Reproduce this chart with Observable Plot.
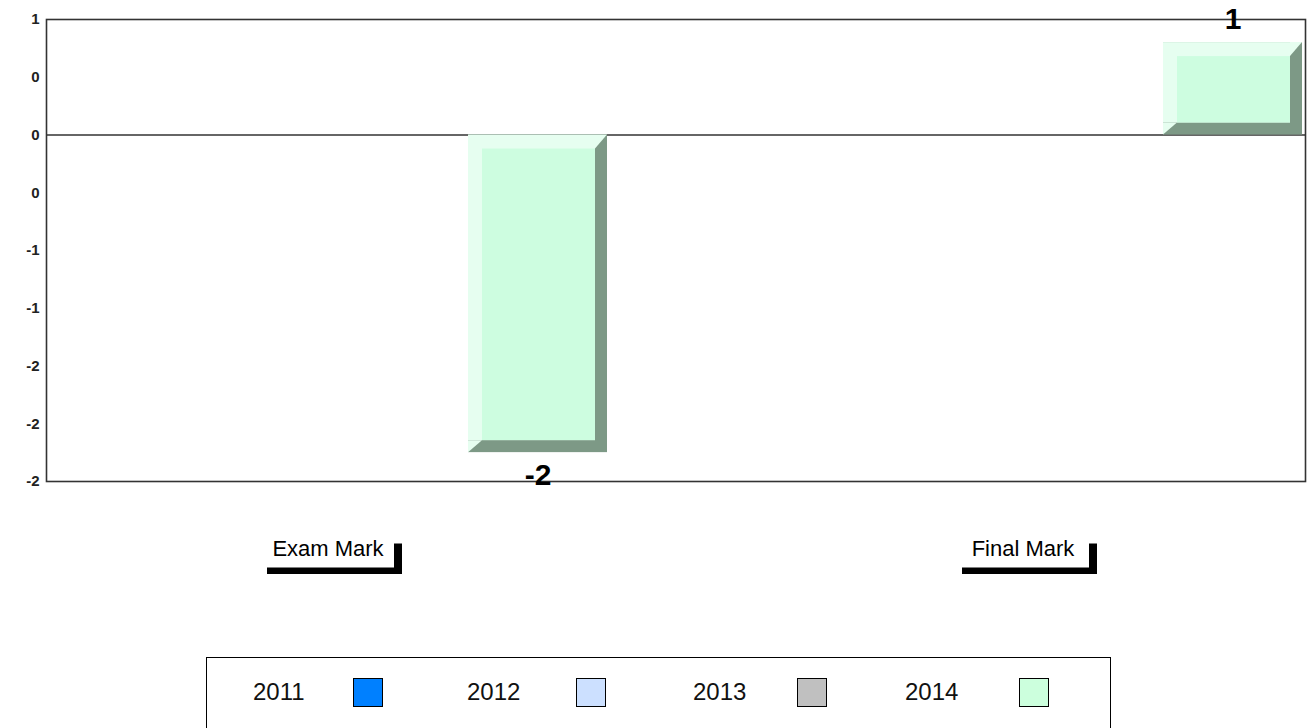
<!DOCTYPE html>
<html>
<head>
<meta charset="utf-8">
<script src="https://cdn.jsdelivr.net/npm/d3@7"></script>
<script src="https://cdn.jsdelivr.net/npm/@observablehq/plot@0.6"></script>
<style>
  body { margin: 0; background: #fff; font-family: Arial, "Liberation Sans", sans-serif; }
  #chart { position: absolute; left: 0; top: 0; }
  #legend { position: absolute; left: 206px; top: 657px; width: 905px; height: 100px; border: 1px solid #000; box-sizing: border-box; }
  .lg-label { position: absolute; font-size: 24px; line-height: 24px; color: #111; top: 22px; }
  .lg-swatch { position: absolute; width: 30px; height: 29px; border: 1.5px solid #000; box-sizing: border-box; top: 20px; }
</style>
</head>
<body>
<div id="chart"></div>
<div id="legend"></div>
<script>
// ---- data ----
const categories = ["Exam Mark", "Final Mark"];
const series = ["2011", "2012", "2013", "2014"];
const seriesColors = ["#0080ff", "#cce0ff", "#c0c0c0", "#ccffdd"];
const values2011 = [null, null];
const values2012 = [null, null];
const values2013 = [null, null];
const values2014 = [-2.2, 0.64];
const yTicks = [-2.4, -2.0, -1.6, -1.2, -0.8, -0.4, 0, 0.4, 0.8];
const yTickLabels = ["-2", "-2", "-2", "-1", "-1", "0", "0", "0", "1"];

// ---- style ----
const lightColor = "#e6fef0";
const faceColor = "#cdfde0";
const shadowColor = "#7d9986";

const seriesValues = [values2011, values2012, values2013, values2014];
const rows = [];
const xDomain = [];
categories.forEach((c, ci) => {
  if (ci > 0) xDomain.push("gap" + ci);
  series.forEach((s, si) => {
    const key = c + "|" + s;
    xDomain.push(key);
    rows.push({key, category: c, series: s, value: seriesValues[si][ci]});
  });
});
const bars = rows.filter(d => d.value != null);

const W = 1311, H = 640;

function decor(index, scales) {
  const x = scales.x, y = scales.y, bw = x.bandwidth();
  const g = d3.create("svg:g");
  for (const d of bars) {
    const x0 = x(d.key), x1 = x0 + bw;
    const ya = y(0), yb = y(d.value);
    const top = Math.min(ya, yb), bottom = Math.max(ya, yb);
    g.append("path").attr("fill", lightColor)
      .attr("d", `M${x1 - 12},${top}L${x1},${top}L${x1 - 12},${top + 14}Z`);
    g.append("path").attr("fill", lightColor)
      .attr("d", `M${x0},${bottom - 12}L${x0 + 14},${bottom - 12}L${x0},${bottom}Z`);
  }
  categories.forEach(c => {
    const first = x(c + "|" + series[0]);
    const last = x(c + "|" + series[series.length - 1]) + bw;
    const cx = (first + last) / 2;
    g.append("text").attr("x", cx - 1).attr("y", 555.5)
      .attr("text-anchor", "middle").attr("font-size", 22)
      .attr("font-family", "Arial, 'Liberation Sans', sans-serif")
      .attr("fill", "#000").text(c);
    g.append("rect").attr("x", cx - 62).attr("y", 567.5).attr("width", 135).attr("height", 6.5).attr("fill", "#000");
    g.append("rect").attr("x", cx + 65).attr("y", 543.5).attr("width", 8).attr("height", 30.5).attr("fill", "#000");
  });
  return g.node();
}

const chart = Plot.plot({
  width: W,
  height: H,
  marginLeft: 46,
  marginRight: 6,
  marginTop: 19,
  marginBottom: H - 481,
  style: { fontFamily: "Arial, 'Liberation Sans', sans-serif", background: "#fff", color: "#000" },
  x: { type: "band", domain: xDomain, padding: 0, insetLeft: 5, insetRight: 3, axis: null },
  y: { domain: [-2.4, 0.8], axis: null },
  marks: [
    Plot.ruleY([0], { stroke: "#333", strokeWidth: 1.5 }),
    Plot.barY(bars, { x: "key", y: "value", fill: shadowColor }),
    Plot.barY(bars, { x: "key", y: "value", fill: lightColor, insetRight: 12, insetBottom: 12 }),
    Plot.barY(bars, { x: "key", y: "value", fill: faceColor, insetLeft: 14, insetTop: 14, insetRight: 12, insetBottom: 12 }),
    decor,
    Plot.frame({ stroke: "#333", strokeWidth: 1.6 }),
    Plot.axisY(yTicks, {
      label: null,
      tickSize: 0,
      tickPadding: 7,
      fontSize: 15,
      fontWeight: "bold",
      fill: "#222",
      tickFormat: d => yTickLabels[yTicks.findIndex(t => Math.abs(t - d) < 1e-9)]
    }),
    Plot.text(bars.filter(d => d.value < 0), {
      x: "key", y: "value", text: d => String(Math.round(d.value)),
      dy: 23, fontSize: 30, fontWeight: "bold", fill: "#000"
    }),
    Plot.text(bars.filter(d => d.value >= 0), {
      x: "key", y: "value", text: d => String(Math.round(d.value)),
      dy: -23, fontSize: 30, fontWeight: "bold", fill: "#000"
    })
  ]
});
document.getElementById("chart").appendChild(chart);

// ---- legend ----
const legend = document.getElementById("legend");
const labelLeft = [46, 260, 486, 698];
const swatchLeft = [146, 369, 590, 812];
series.forEach((s, i) => {
  const t = document.createElement("div");
  t.className = "lg-label";
  t.style.left = labelLeft[i] + "px";
  t.textContent = s;
  legend.appendChild(t);
  const sw = document.createElement("div");
  sw.className = "lg-swatch";
  sw.style.left = swatchLeft[i] + "px";
  sw.style.background = seriesColors[i];
  legend.appendChild(sw);
});
</script>
</body>
</html>
